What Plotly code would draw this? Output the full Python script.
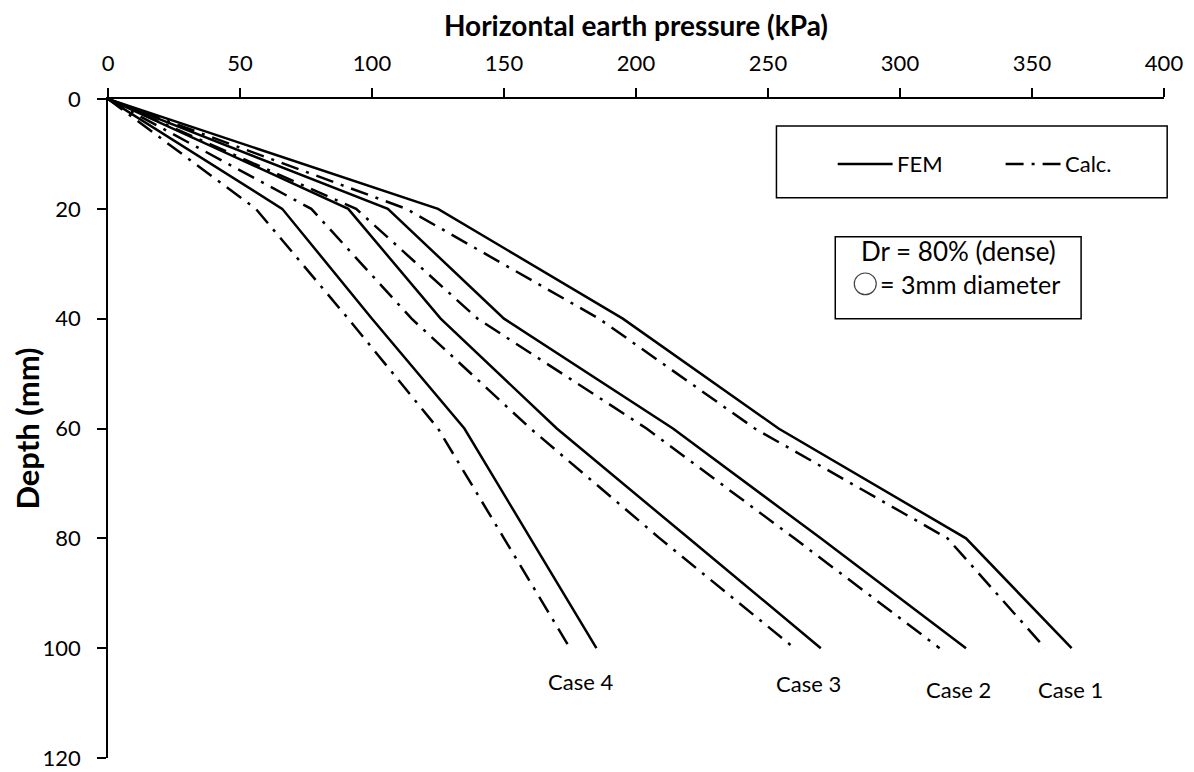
import plotly.graph_objects as go

# depth below surface (mm)
depth = [0, 20, 40, 60, 80, 100]

# horizontal earth pressure (kPa)
fem_case1 = [0, 125, 195, 254, 325, 365]
calc_case1 = [0, 113, 186, 245, 318, 355]
fem_case2 = [0, 106, 150, 214, 270, 325]
calc_case2 = [0, 94, 140, 204, 260, 315]
fem_case3 = [0, 91, 126, 170, 220, 270]
calc_case3 = [0, 77, 115, 160, 209, 260]
fem_case4 = [0, 66, 100, 135, 160, 185]
calc_case4 = [0, 56, 91, 125, 150, 175]

case_names = ["Case 1", "Case 2", "Case 3", "Case 4"]
x_ticks = [0, 50, 100, 150, 200, 250, 300, 350, 400]
y_ticks = [0, 20, 40, 60, 80, 100, 120]

FONT = "Lato, 'Open Sans', sans-serif"
DASHDOT = "18px,8px,3px,8px"

fem = [fem_case1, fem_case2, fem_case3, fem_case4]
calc = [calc_case1, calc_case2, calc_case3, calc_case4]

fig = go.Figure()
for name, f, c in zip(case_names, fem, calc):
    fig.add_trace(go.Scatter(x=f, y=depth, mode="lines", name=f"{name} FEM",
                             line=dict(color="black", width=2.5), showlegend=False))
    fig.add_trace(go.Scatter(x=c, y=depth, mode="lines", name=f"{name} Calc.",
                             line=dict(color="black", width=2.5, dash=DASHDOT),
                             showlegend=False))

# case labels sit just under the ends of each pair of curves
label_pos = {"Case 1": (364.5, 107.5), "Case 2": (322, 107.5),
             "Case 3": (265.5, 106.5), "Case 4": (179, 106.1)}
for name in case_names:
    lx, ly = label_pos[name]
    fig.add_annotation(x=lx, y=ly, text=name, showarrow=False,
                       xanchor="center", yanchor="middle",
                       font=dict(size=22, color="black", family=FONT))


def note(x, y, text, size, anchor="left"):
    fig.add_annotation(xref="paper", yref="paper", x=x, y=y, text=text,
                       xanchor=anchor, yanchor="middle", showarrow=False,
                       font=dict(size=size, color="black", family=FONT))


# legend box, drawn by hand so the line samples match
fig.add_shape(type="rect", xref="paper", yref="paper", x0=0.633, x1=1.003,
              y0=0.85, y1=0.959, line=dict(color="black", width=1.5))
fig.add_shape(type="line", xref="paper", yref="paper", x0=0.691, x1=0.743,
              y0=0.9015, y1=0.9015, line=dict(color="black", width=2.5))
note(0.7455, 0.9015, "FEM", 22)
fig.add_shape(type="line", xref="paper", yref="paper", x0=0.850, x1=0.902,
              y0=0.9015, y1=0.9015, line=dict(color="black", width=2.5, dash=DASHDOT))
note(0.9045, 0.9015, "Calc.", 22)

# test condition box
fig.add_shape(type="rect", xref="paper", yref="paper", x0=0.6887, x1=0.9215,
              y0=0.6667, y1=0.7909, line=dict(color="black", width=1.5))
note(0.805, 0.7697, "Dr = 80% (dense)", 26, anchor="center")
fig.add_shape(type="circle", xref="paper", yref="paper", x0=0.7067, x1=0.7275,
              y0=0.703, y1=0.736, line=dict(color="#444", width=1.2))
note(0.729, 0.7197, "= 3mm diameter", 25)

fig.update_xaxes(range=[0, 400], side="top", tickvals=x_ticks, ticks="outside",
                 ticklen=9, tickwidth=1.5, tickcolor="black", showline=True,
                 linecolor="black", linewidth=1.5, showgrid=False, zeroline=False,
                 ticklabelstandoff=8, automargin=False,
                 tickfont=dict(size=22, color="black", family=FONT),
                 title=dict(text="<b>Horizontal earth pressure (kPa)</b>", standoff=12,
                            font=dict(size=28, color="black", family=FONT)))
fig.update_yaxes(range=[120, 0], tickvals=y_ticks, ticks="outside", ticklen=9,
                 tickwidth=1.5, tickcolor="black", showline=True, linecolor="black",
                 linewidth=1.5, showgrid=False, zeroline=False,
                 ticklabelstandoff=12, automargin=False,
                 tickfont=dict(size=22, color="black", family=FONT),
                 title=dict(text="<b>Depth (mm)</b>", standoff=0,
                            font=dict(size=31, color="black", family=FONT)))
# the page body adds 8px, so the figure is 8px smaller than the window
fig.update_layout(width=1186, height=764, plot_bgcolor="white", paper_bgcolor="white",
                  margin=dict(l=100, r=30, t=91, b=14), showlegend=False)

fig.write_html("out.html")
